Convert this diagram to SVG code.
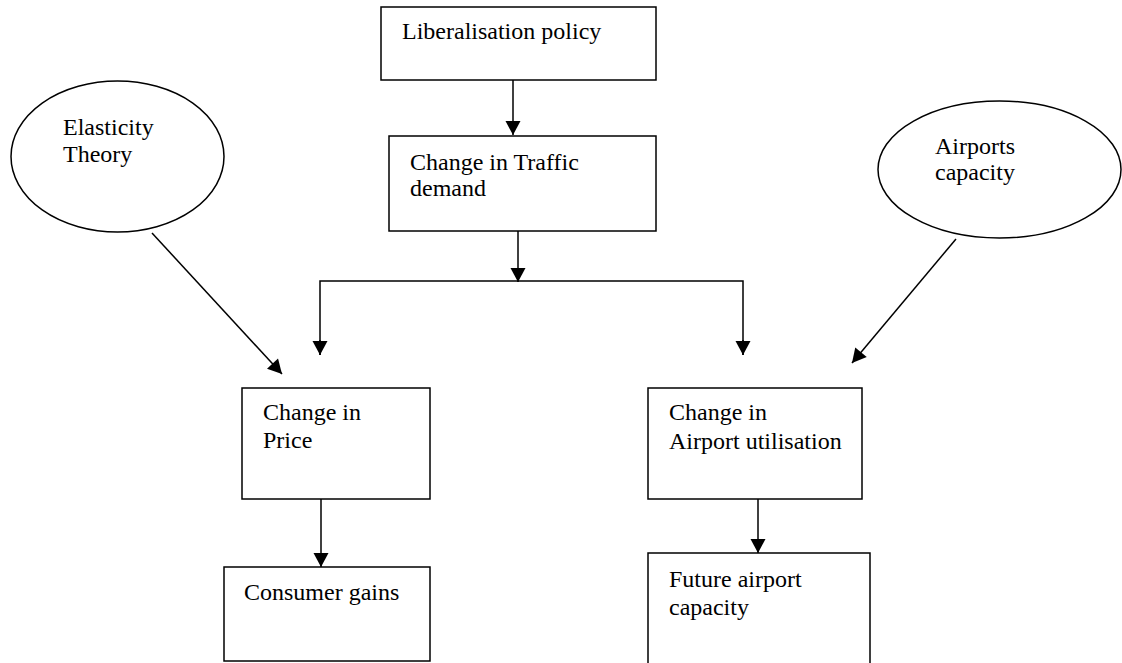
<svg xmlns="http://www.w3.org/2000/svg" width="1122" height="663" viewBox="0 0 1122 663">
<style>
.box{fill:#fff;stroke:#000;stroke-width:1.5}
.el{fill:#fff;stroke:#000;stroke-width:1.5}
.t{font-family:"Liberation Serif","Times New Roman",serif;font-size:24px;fill:#000}
.c{fill:none;stroke:#000;stroke-width:1.5}
</style>
<defs>
<marker id="ah" markerUnits="userSpaceOnUse" markerWidth="16" markerHeight="16" viewBox="0 0 14 16" refX="14" refY="8" orient="auto">
<path d="M0,0.5 L14,8 L0,15.5 Z" fill="#000"/>
</marker>
</defs>
<rect width="1122" height="663" fill="#fff"/>
<g id="connectors">
<line class="c" x1="513" y1="80" x2="513" y2="135" marker-end="url(#ah)"/>
<line class="c" x1="518" y1="231" x2="518" y2="282" marker-end="url(#ah)"/>
<polyline class="c" points="320,355 320,281 743,281 743,355" />
<line class="c" x1="320" y1="340" x2="320" y2="355" marker-end="url(#ah)"/>
<line class="c" x1="743" y1="340" x2="743" y2="355" marker-end="url(#ah)"/>
<line class="c" x1="152" y1="233" x2="282" y2="374" marker-end="url(#ah)"/>
<line class="c" x1="956" y1="239" x2="852" y2="363" marker-end="url(#ah)"/>
<line class="c" x1="321" y1="499" x2="321" y2="567" marker-end="url(#ah)"/>
<line class="c" x1="758" y1="499" x2="758" y2="553" marker-end="url(#ah)"/>
</g>
<g id="liberalisation">
<rect class="box" x="381" y="7" width="275" height="73"/>
<text class="t" x="402" y="39">Liberalisation policy</text>
</g>
<g id="traffic">
<rect class="box" x="389" y="136" width="267" height="95"/>
<text class="t" x="410" y="170">Change in Traffic</text>
<text class="t" x="410" y="196">demand</text>
</g>
<g id="elasticity">
<ellipse class="el" cx="117.5" cy="156.5" rx="106.5" ry="75.5"/>
<text class="t" x="63" y="135">Elasticity</text>
<text class="t" x="63" y="162">Theory</text>
</g>
<g id="airports">
<ellipse class="el" cx="999.5" cy="169.5" rx="121.5" ry="68.5"/>
<text class="t" x="935" y="154">Airports</text>
<text class="t" x="935" y="180">capacity</text>
</g>
<g id="price">
<rect class="box" x="242" y="388" width="188" height="111"/>
<text class="t" x="263" y="420">Change in</text>
<text class="t" x="263" y="448">Price</text>
</g>
<g id="utilisation">
<rect class="box" x="648" y="388" width="214" height="111"/>
<text class="t" x="669" y="420">Change in</text>
<text class="t" x="669" y="449">Airport utilisation</text>
</g>
<g id="consumer">
<rect class="box" x="224" y="567" width="206" height="94"/>
<text class="t" x="244" y="600">Consumer gains</text>
</g>
<g id="future">
<rect class="box" x="648" y="553" width="222" height="120"/>
<text class="t" x="669" y="587">Future airport</text>
<text class="t" x="669" y="615">capacity</text>
</g>
</svg>
